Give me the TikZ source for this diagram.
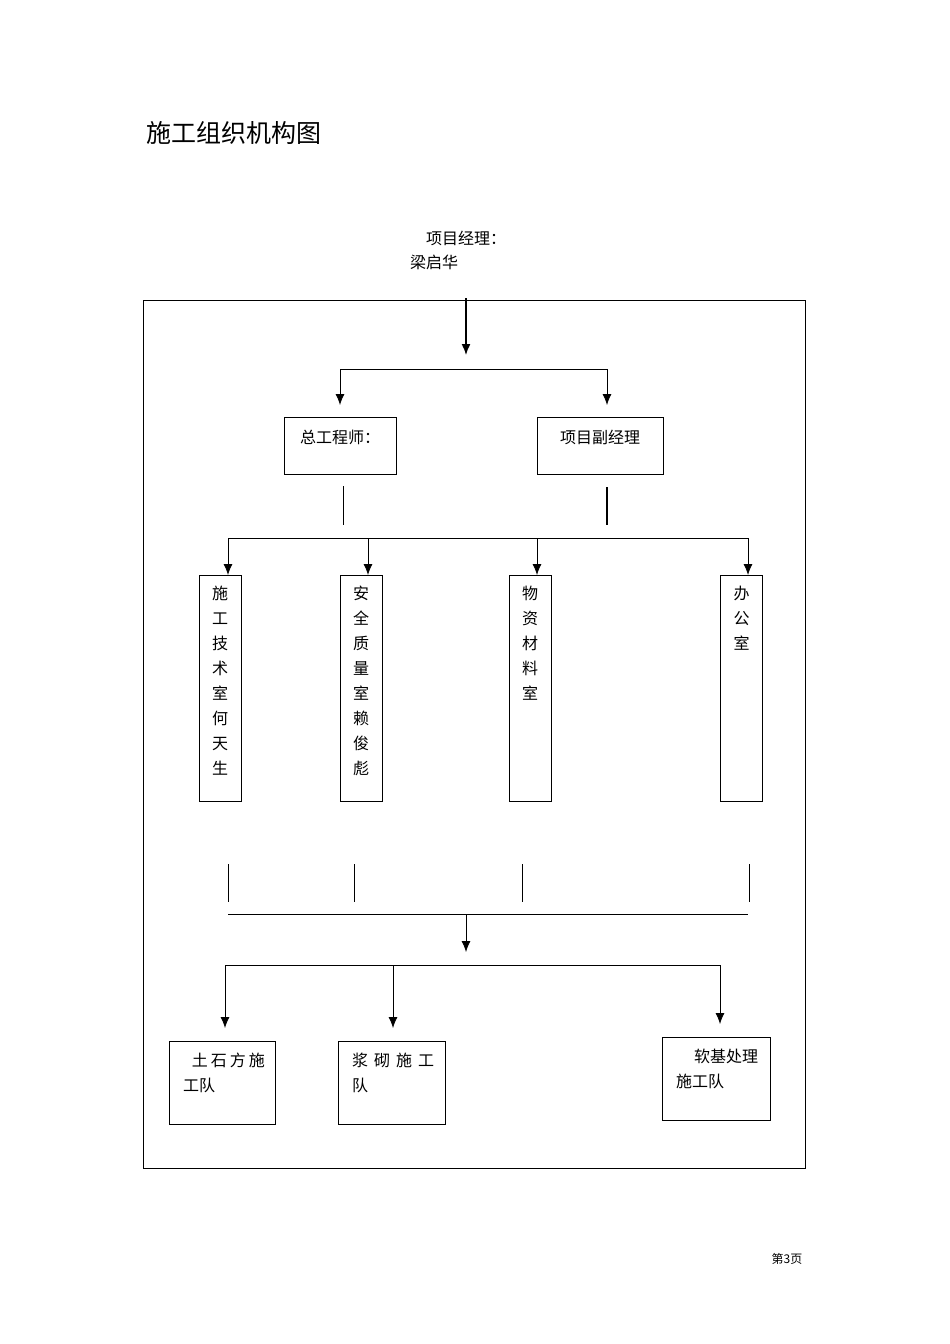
\documentclass[tikz,border=0pt]{standalone}
\usepackage{fontspec}
\newfontfamily\cjk{Noto Sans CJK SC}
\usetikzlibrary{positioning,arrows.meta}

\begin{document}
\begin{tikzpicture}[x=1pt,y=-1pt,>={Latex[length=11pt,width=9pt]},
  box/.style={draw,line width=0.9pt,inner sep=0pt,outer sep=0pt},
  colbox/.style={box,minimum width=42,minimum height=226},
  lbl/.style={font=\cjk\fontsize{16}{25}\selectfont,inner sep=0pt,align=center},
  wire/.style={line width=0.8pt},
  arr/.style={wire,->}]
\useasboundingbox (0,0) rectangle (950,1344);
\node[box,minimum width=662,minimum height=868] (frame) at (474,734) {};
\node[font=\cjk\fontsize{25}{30}\selectfont,inner sep=0pt] (title) at (233.5,133) {施工组织机构图};
\node[lbl] (pm) at (466,238) {项目经理：};
\node[lbl] (pmname) at (434,262) {梁启华};
\node[font=\cjk\fontsize{12}{14}\selectfont,inner sep=0pt] (pageno) at (787,1259) {第3页};

% second level
\node[box,minimum width=112,minimum height=57] (ce) at (340,445.5) {};
\node[lbl,below=13pt of ce.north] (cetxt) {总工程师：};
\node[box,minimum width=126,minimum height=57] (dpm) at (600,445.5) {};
\node[lbl,below=13pt of dpm.north] (dpmtxt) {项目副经理};

% departments
\node[colbox] (d1) at (220,688) {};
\node[colbox] (d2) at (361,688) {};
\node[colbox] (d3) at (530,688) {};
\node[colbox] (d4) at (741.5,688) {};
\node[lbl,below=11pt of d1.north] (d1txt) {施\\工\\技\\术\\室\\何\\天\\生};
\node[lbl,below=11pt of d2.north] (d2txt) {安\\全\\质\\量\\室\\赖\\俊\\彪};
\node[lbl,below=11pt of d3.north] (d3txt) {物\\资\\材\\料\\室};
\node[lbl,below=11pt of d4.north] (d4txt) {办\\公\\室};

% teams
\node[box,minimum width=106,minimum height=83] (t1) at (222,1082.5) {};
\node[box,minimum width=107,minimum height=83] (t2) at (391.5,1082.5) {};
\node[box,minimum width=108,minimum height=83] (t3) at (716,1078.5) {};
\node[lbl,align=left,below right=12pt and 14pt of t1.north west] (t1txt)
  {\hspace*{8.7pt}土\kern3pt 石\kern3pt 方\kern3pt 施\\工队};
\node[lbl,align=left,below right=12pt and 14pt of t2.north west] (t2txt)
  {浆\kern6pt 砌\kern6pt 施\kern6pt 工\\队};
\node[lbl,align=left,below right=12pt and 14pt of t3.north west] (t3txt)
  {\hspace*{18pt}软基处理\\施工队};

% connectors
\coordinate (top) at (466,298);
\coordinate (topend) at (466,355);
\draw[arr,line width=1.4pt] (top) -- (topend);
\coordinate (b1l) at (340,369);
\coordinate (b1r) at (607,369);
\draw[wire] (b1l) -- (b1r);
\draw[arr] (b1l) -- ([yshift=12pt]ce.north);
\draw[arr] (b1r) -- ([xshift=7pt,yshift=12pt]dpm.north);
\draw[wire] ([xshift=3pt,yshift=-12pt]ce.south) -- ++(0,39);
\draw[wire,line width=1.4pt] ([xshift=7pt,yshift=-13pt]dpm.south) -- ++(0,38);

\coordinate (b2l) at (228,538);
\coordinate (b2r) at (748,538);
\draw[wire] (b2l) -- (b2r);
\foreach \d/\dx in {d1/8,d2/7,d3/7,d4/6.5}
  \draw[arr] ([xshift=\dx pt]\d.north |- b2l) -- ([xshift=\dx pt]\d.north);

\foreach \d/\dx in {d1/8,d2/-7,d3/-8,d4/7.5}
  \draw[wire] ([xshift=\dx pt,yshift=-63pt]\d.south) -- ++(0,38);
\coordinate (b3l) at (228,914);
\coordinate (b3r) at (748,914);
\coordinate (b3m) at (466,914);
\draw[wire] (b3l) -- (b3r);
\draw[arr] (b3m) -- ++(0,38);

\coordinate (b4l) at (225,965);
\coordinate (b4r) at (720,965);
\draw[wire] (b4l) -- (b4r);
\foreach \t/\dx in {t1/3,t2/1.5,t3/4}
  \draw[arr] ([xshift=\dx pt]\t.north |- b4l) -- ([xshift=\dx pt,yshift=13pt]\t.north);
\end{tikzpicture}
\end{document}
